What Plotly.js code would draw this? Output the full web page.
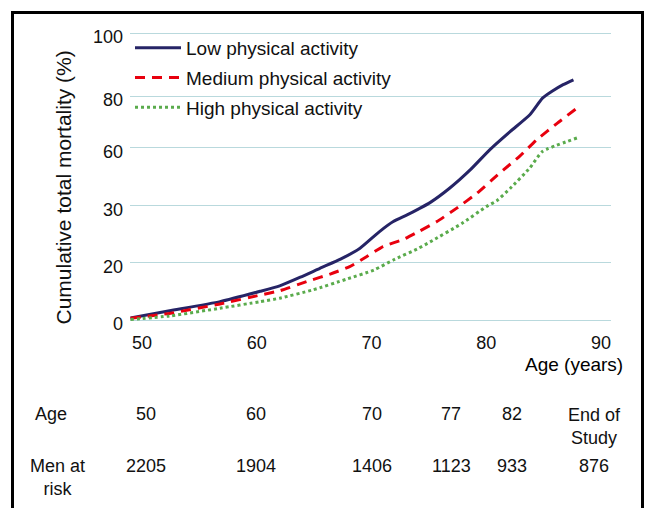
<!DOCTYPE html>
<html>
<head>
<meta charset="utf-8">
<script src="https://cdn.plot.ly/plotly-3.0.1.min.js"></script>
<style>html,body{margin:0;padding:0;background:#fff;}#chart{width:646px;height:508px;}</style>
</head>
<body>
<div id="chart"></div>
<script>
// ---- data ----
const seriesNames = ["Low physical activity", "Medium physical activity", "High physical activity"];

const lowAge = [49.0, 52.4, 56.8, 60.3, 62.0, 63.8, 65.5, 67.3, 69.0, 70.7, 71.9, 73.1, 74.2, 75.1, 76.8, 78.6, 80.3, 82.1, 83.8, 84.9, 85.7, 86.7, 87.6];
const lowVal = [0.7, 3.2, 6.4, 10.0, 11.9, 14.9, 18.0, 21.2, 25.0, 30.8, 34.3, 36.6, 38.9, 40.9, 45.9, 52.3, 59.3, 65.7, 71.5, 77.3, 79.6, 82.0, 83.7];

const medAge = [49.0, 52.4, 56.8, 60.3, 62.0, 64.6, 66.4, 68.1, 69.6, 71.0, 72.8, 74.1, 75.7, 77.4, 79.2, 80.5, 81.5, 82.9, 84.4, 86.2, 87.8];
const medVal = [0.6, 2.3, 5.6, 8.7, 10.2, 13.7, 16.0, 18.6, 22.1, 25.6, 28.1, 30.8, 34.3, 38.9, 44.2, 48.8, 52.3, 57.0, 62.8, 68.6, 73.5];

const highAge = [49.0, 52.4, 56.8, 60.3, 62.0, 64.9, 67.8, 70.2, 71.9, 74.1, 75.1, 77.9, 80.0, 80.9, 82.1, 83.8, 84.9, 87.9];
const highVal = [0.2, 1.4, 4.1, 6.4, 7.6, 10.5, 14.2, 17.4, 20.9, 25.0, 27.2, 33.7, 39.5, 41.5, 45.9, 53.0, 58.7, 63.4];

const xTickVals = [50, 60, 70, 80, 90];
const yTickVals = [0, 20, 40, 60, 78, 100];
const yTickText = ["0", "20", "30", "60", "80", "100"];

const tableAgeLabels = ["50", "60", "70", "77", "82", "End of<br>Study"];
const tableMenAtRisk = ["2205", "1904", "1406", "1123", "933", "876"];

// ---- layout geometry (pixels) ----
const L = 130, R = 611, T = 22, B = 332;
const W = R - L, H = B - T;
const px2x = px => (px - L) / W;
const py2y = py => (B - py) / H;
// x: age 50 at 142px, 11.475 px/year ; y: 0 at 320px, 100 at 33px
const xPerPx = 1 / 11.475;
const xRange = [50 - (142 - L) * xPerPx, 50 + (R - 142) * xPerPx];
const yK = (320 - 33) / 100;
const yRange = [-(B - 320) / yK, 100 + (33 - T) / yK];

const tableColPx = [146, 256, 372, 451, 512, 594];
const rowAgeY = 414, rowAgeTwoLineY = 426, rowMenY = 466;

const font = "Liberation Sans, Arial, Helvetica, sans-serif";
const ink = "#111111";

const traces = [
  {x: lowAge, y: lowVal, name: seriesNames[0], legendgroup: "a", mode: "lines", type: "scatter",
   line: {color: "#262466", width: 3, shape: "spline", smoothing: 0.5}},
  {x: medAge, y: medVal, name: seriesNames[1], legendgroup: "b", mode: "lines", type: "scatter",
   line: {color: "#e8000e", width: 3, dash: "10px,7px", shape: "spline", smoothing: 0.5}},
  {x: highAge, y: highVal, name: seriesNames[2], legendgroup: "c", mode: "lines", type: "scatter",
   line: {color: "#5aab4c", width: 3, dash: "3px,3px", shape: "spline", smoothing: 0.5}}
];

const annotations = [];
annotations.push({xref: "paper", yref: "paper", x: px2x(63), y: py2y(187.5), text: "Cumulative total mortality (%)",
  textangle: -90, showarrow: false, xanchor: "center", yanchor: "middle", font: {family: font, size: 21, color: ink}});
annotations.push({xref: "paper", yref: "paper", x: px2x(625), y: py2y(364), text: "Age (years)",
  showarrow: false, xanchor: "right", yanchor: "middle", font: {family: font, size: 19, color: "#000"}});
annotations.push({xref: "paper", yref: "paper", x: px2x(51), y: py2y(rowAgeY), text: "Age",
  showarrow: false, xanchor: "center", yanchor: "middle", font: {family: font, size: 18, color: ink}});
annotations.push({xref: "paper", yref: "paper", x: px2x(57), y: py2y(477.5), text: "Men at<br>risk",
  showarrow: false, xanchor: "center", yanchor: "middle", align: "center", font: {family: font, size: 18, color: ink}});
tableAgeLabels.forEach((t, i) => {
  const two = t.indexOf("<br>") >= 0;
  annotations.push({xref: "paper", yref: "paper", x: px2x(tableColPx[i]), y: py2y(two ? rowAgeTwoLineY : rowAgeY), text: t,
    showarrow: false, xanchor: "center", yanchor: "middle", align: "center", font: {family: font, size: 18, color: ink}});
});
tableMenAtRisk.forEach((t, i) => {
  annotations.push({xref: "paper", yref: "paper", x: px2x(tableColPx[i]), y: py2y(rowMenY), text: t,
    showarrow: false, xanchor: "center", yanchor: "middle", font: {family: font, size: 18, color: ink}});
});

const layout = {
  width: 646, height: 508,
  margin: {l: L, r: 646 - R, t: T, b: 508 - B, pad: 0},
  paper_bgcolor: "#fff", plot_bgcolor: "#fff",
  font: {family: font, size: 18, color: ink},
  showlegend: true,
  legend: {x: 0, y: py2y(29), xanchor: "left", yanchor: "top", bgcolor: "rgba(0,0,0,0)",
           itemwidth: 46, tracegroupgap: 2,
           font: {family: font, size: 19, color: ink}},
  xaxis: {range: xRange, tickmode: "array", tickvals: xTickVals, showgrid: false, zeroline: false,
          showline: false, ticks: "", ticklabelstandoff: -2, tickfont: {family: font, size: 18, color: ink}},
  yaxis: {range: yRange, tickmode: "array", tickvals: yTickVals, ticktext: yTickText, showgrid: true,
          gridcolor: "#b9d9dd", gridwidth: 1, zeroline: false, showline: false, ticks: "",
          ticklabelstandoff: 6, ticklabelshift: 4, tickfont: {family: font, size: 18, color: ink}},
  annotations: annotations,
  shapes: [{type: "rect", xref: "paper", yref: "paper",
            x0: px2x(12.5), x1: px2x(642.5), y0: py2y(540), y1: py2y(12.5),
            line: {color: "#000", width: 3}, fillcolor: "rgba(0,0,0,0)", layer: "above"}]
};

Plotly.newPlot("chart", traces, layout, {displayModeBar: false, staticPlot: true});
</script>
</body>
</html>
